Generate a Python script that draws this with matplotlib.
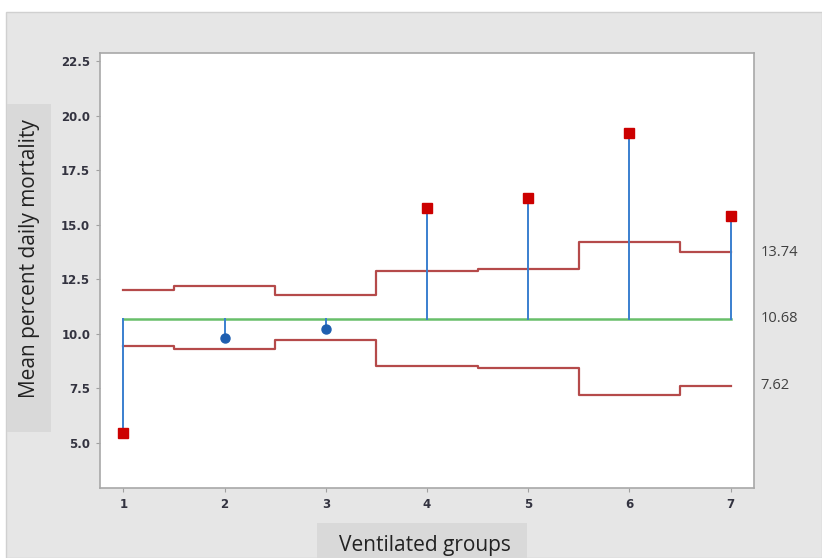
import matplotlib
matplotlib.use("Agg")
import matplotlib.pyplot as plt
from matplotlib.patches import Rectangle
import matplotlib.transforms as mtrans

# ---- data ----
groups = [1, 2, 3, 4, 5, 6, 7]
means = [5.46, 9.80, 10.22, 15.76, 16.21, 19.19, 15.41]
out_of_control = [True, False, False, True, True, True, True]
ucl = [12.02, 12.19, 11.76, 12.88, 12.96, 14.22, 13.74]
lcl = [9.44, 9.32, 9.70, 8.52, 8.44, 7.20, 7.62]
center = 10.68
right_labels = ["13.74", "10.68", "7.62"]
right_values = [13.74, 10.68, 7.62]
yticks = [5.0, 7.5, 10.0, 12.5, 15.0, 17.5, 20.0, 22.5]

W, H = 822, 558
fig = plt.figure(figsize=(W / 100, H / 100), dpi=100)
fig.patch.set_facecolor("white")

def px_rect(x0, y0, x1, y1, **kw):
    r = Rectangle((x0 / W, 1 - y1 / H), (x1 - x0) / W, (y1 - y0) / H,
                  transform=fig.transFigure, zorder=-10, **kw)
    fig.patches.append(r)

px_rect(6, 12, 822, 558, facecolor="#e6e6e6", edgecolor="#d0d0d0", linewidth=1)
px_rect(7, 104, 51, 432, facecolor="#d9d9d9", edgecolor="none")
px_rect(317, 523, 527, 558, facecolor="#d9d9d9", edgecolor="none")

left, right, top, bottom = 100, 754, 53, 488
ax = fig.add_axes([left / W, 1 - bottom / H, (right - left) / W, (bottom - top) / H])
ax.set_zorder(5)
ax.set_facecolor("white")
ax.set_xlim(0.77, 7.23)
ax.set_ylim(2.93, 22.87)

blue = "#3a7fcf"
red = "#cc0000"
limit_c = "#b54a4a"
green = "#68bf6a"

ax.plot(groups, ucl, drawstyle="steps-mid", color=limit_c, lw=1.6, zorder=2)
ax.plot(groups, lcl, drawstyle="steps-mid", color=limit_c, lw=1.6, zorder=2)
ax.plot([groups[0], groups[-1]], [center, center], color=green, lw=1.8, zorder=2)
for g, m in zip(groups, means):
    ax.plot([g, g], [center, m], color=blue, lw=1.4, zorder=3)
for g, m, o in zip(groups, means, out_of_control):
    if o:
        ax.plot(g, m, marker="s", color=red, markersize=7.5, zorder=4)
    else:
        ax.plot(g, m, marker="o", color="#1f5fb0", markersize=6.5, zorder=4)

ax.set_xticks(groups)
ax.set_xticklabels([str(g) for g in groups])
ax.set_yticks(yticks)
ax.set_yticklabels([f"{v:.1f}" for v in yticks])
for lab in ax.get_xticklabels() + ax.get_yticklabels():
    lab.set_fontsize(8.5)
    lab.set_fontweight("semibold")
    lab.set_color("#333340")
ax.tick_params(axis="both", length=3, width=0.8, color="#a0a0a0", pad=4)
for s in ax.spines.values():
    s.set_color("#a8a8a8")
    s.set_linewidth(1.2)

trans = mtrans.blended_transform_factory(ax.transAxes, ax.transData)
for t, v in zip(right_labels, right_values):
    ax.text(1.01, v, t, transform=trans, ha="left", va="center",
            fontsize=10.5, color="#404040", family="Open Sans", clip_on=False)

fig.text(30 / W, 1 - 259 / H, "Mean percent daily mortality", rotation=90,
         ha="center", va="center", fontsize=15, color="#222222", family="Open Sans")
fig.text(425 / W, 1 - 546 / H, "Ventilated groups", ha="center", va="center",
         fontsize=15, color="#222222", family="Open Sans")

fig.savefig("out.png", dpi=100, facecolor=fig.get_facecolor())
